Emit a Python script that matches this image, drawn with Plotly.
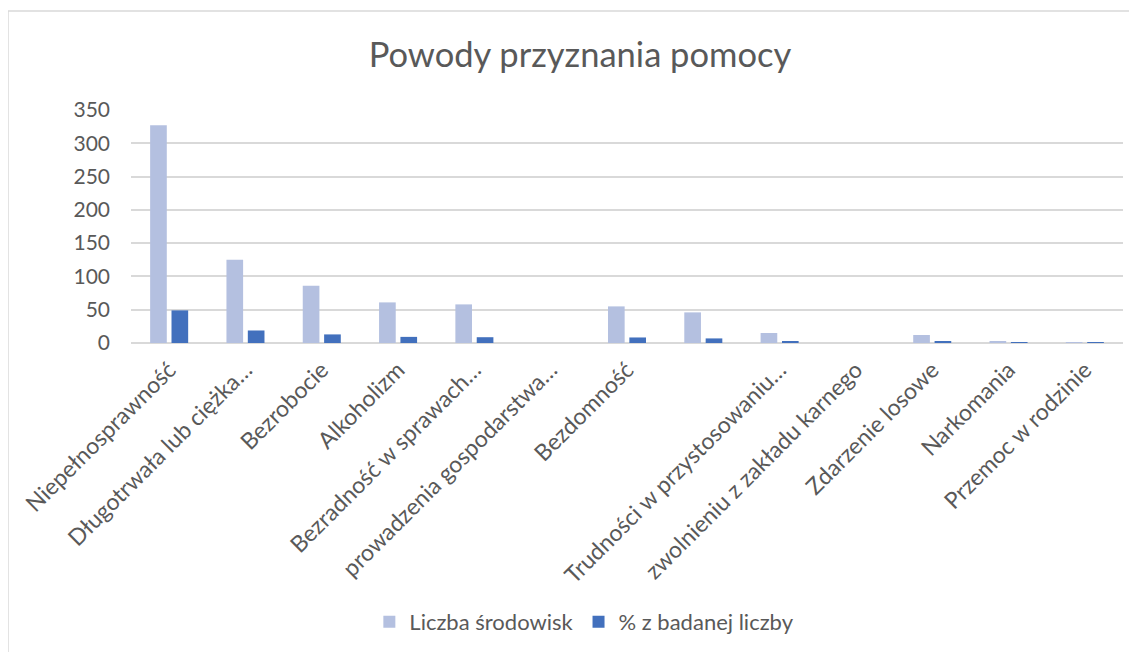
import plotly.graph_objects as go

# kategorie (powody przyznania pomocy)
categories = [
    'Niepełnosprawność',
    'Długotrwała lub ciężka…',
    'Bezrobocie',
    'Alkoholizm',
    'Bezradność w sprawach…',
    'prowadzenia gospodarstwa…',
    'Bezdomność',
    '',
    'Trudności w przystosowaniu…',
    'zwolnieniu z zakładu karnego',
    'Zdarzenie losowe',
    'Narkomania',
    'Przemoc w rodzinie',
]
liczba_srodowisk = [327, 125, 86, 61, 58, 0, 55, 46, 15, 0, 12, 3, 1]
procent_badanych = [49, 18.8, 12.9, 9.2, 8.7, 0, 8.3, 6.9, 2.3, 0, 1.8, 0.5, 0.2]
y_ticks = [0, 50, 100, 150, 200, 250, 300, 350]

FONT = 'Lato'
GREY = '#595959'

x_pos = list(range(len(categories)))

fig = go.Figure()
fig.add_trace(go.Bar(
    x=x_pos, y=liczba_srodowisk, name='Liczba środowisk',
    marker=dict(color='#b4c0e0', line=dict(width=0)),
))
fig.add_trace(go.Bar(
    x=x_pos, y=procent_badanych, name='% z badanej liczby',
    marker=dict(color='#4270bd', line=dict(width=0)),
))

# strona html ma 8px marginesu - figura jest o tyle mniejsza
fig.update_layout(
    width=1129, height=644,
    margin=dict(l=123, r=14, t=102, b=309, autoexpand=False),
    paper_bgcolor='white', plot_bgcolor='white',
    font=dict(family=FONT, color=GREY),
    title=dict(text='Powody przyznania pomocy', font=dict(size=34.5, color=GREY),
               x=0.4526, xref='paper', xanchor='center',
               y=0.927, yref='container', yanchor='middle'),
    barmode='group', bargap=0.44, bargroupgap=0.22,
    showlegend=True,
    legend=dict(orientation='h', x=0.457, xanchor='center', y=-1.197, yanchor='middle',
                font=dict(size=22, color=GREY), itemclick=False, traceorder='normal',
                itemwidth=30),
)
fig.update_xaxes(
    tickmode='array', tickvals=x_pos, ticktext=categories, tickangle=-45,
    range=[-0.5, len(categories) - 0.5],
    tickfont=dict(size=23, color=GREY), showgrid=False, zeroline=False,
    showline=False, ticks='', ticklabelstandoff=8,
)
fig.update_yaxes(
    range=[0, 350], tickvals=y_ticks, tickfont=dict(size=21, color=GREY),
    showgrid=True, gridcolor='#d9d9d9', gridwidth=1.5, zeroline=True,
    zerolinecolor='#d9d9d9', zerolinewidth=1.5, showline=False, ticks='',
    ticklabelstandoff=20,
)

# ramka wykresu
fig.add_shape(type='rect', xref='paper', yref='paper',
              x0=-0.124, x1=1.03, y0=-1.5, y1=1.425,
              line=dict(color='#d9d9d9', width=1.5), fillcolor='rgba(0,0,0,0)')

fig.write_html('out.html')
